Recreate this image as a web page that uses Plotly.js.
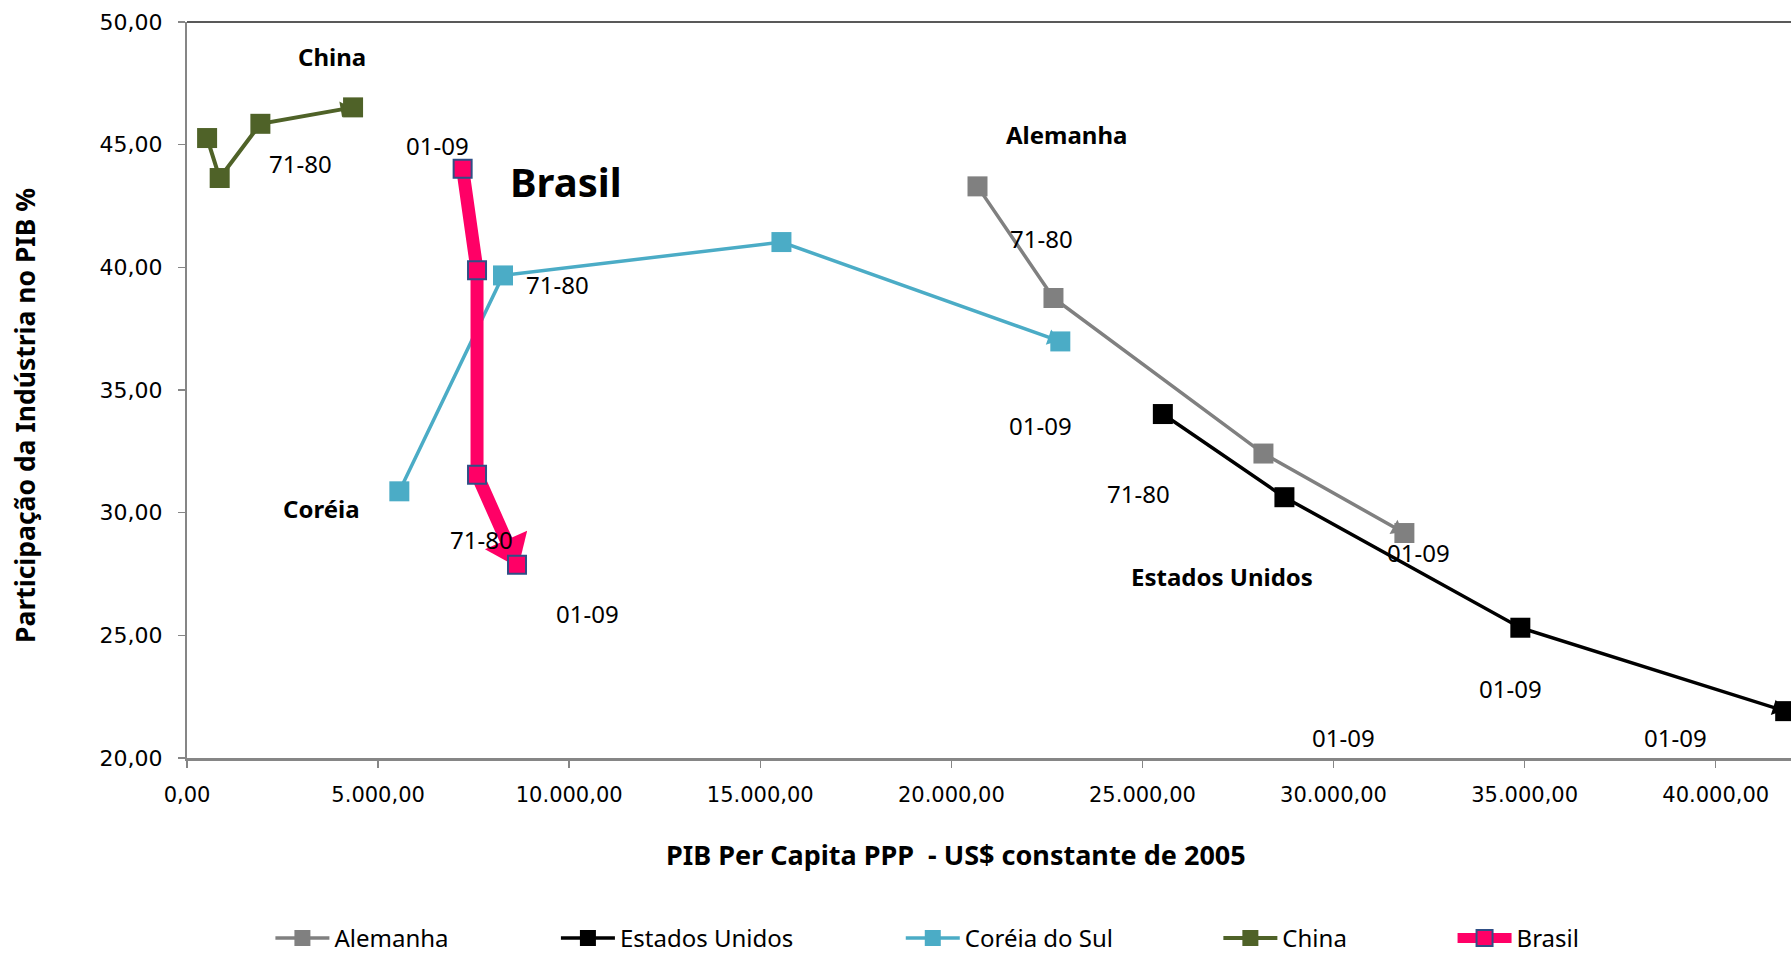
<!DOCTYPE html>
<html>
<head>
<meta charset="utf-8">
<script src="https://cdn.plot.ly/plotly-3.0.1.min.js"></script>
<style>html,body{margin:0;padding:0;background:#fff;}#chart{width:1791px;height:954px;}</style>
</head>
<body>
<div id="chart"></div>
<script>
// ---- data (PIB per capita PPP, participação da indústria %) ----
const seriesNames = ["Alemanha", "Estados Unidos", "Coréia do Sul", "China", "Brasil"];

const alemanhaX = [20684, 22672, 28166, 31854];
const alemanhaY = [43.30, 38.75, 32.41, 29.17];

const euaX = [25534, 28715, 34888, 41818];
const euaY = [34.02, 30.63, 25.31, 21.91];

const coreiaX = [5556, 8269, 15554, 22851];
const coreiaY = [30.87, 39.67, 41.03, 36.98];

const chinaX = [526, 855, 1920, 4345];
const chinaY = [45.27, 43.64, 45.85, 46.52];

const brasilX = [7212, 7589, 7589, 8635];
const brasilY = [44.02, 39.88, 31.55, 27.88];

const xTitle = "PIB Per Capita PPP  - US$ constante de 2005";
const yTitle = "Participação da Indústria no PIB %";

// text labels on the chart
const labelTexts = ["China", "71-80", "01-09", "Brasil", "71-80", "Alemanha", "71-80", "01-09", "71-80",
  "Estados Unidos", "01-09", "Coréia", "71-80", "01-09", "01-09", "01-09", "01-09"];
const labelX = [3783, 2966, 6542, 9909, 9700, 23025, 22368, 22337, 24908, 27090, 32228, 3516, 7698, 10477, 34618, 30256, 38951];
const labelY = [48.58, 44.25, 44.97, 43.51, 39.32, 45.42, 41.16, 33.55, 30.80, 27.40, 28.38, 30.19, 28.89, 25.87, 22.84, 20.84, 20.84];
const labelBold = [true, false, false, true, false, true, false, false, false, true, false, true, false, false, false, false, false];

// ---- styles ----
const colors = ["#808080", "#000000", "#4BACC6", "#4F6228", "#FF0066"];
const allX = [alemanhaX, euaX, coreiaX, chinaX, brasilX];
const allY = [alemanhaY, euaY, coreiaY, chinaY, brasilY];
const lineW = [3.5, 3.5, 3.5, 4, 13];
const legendX = [0.052, 0.230, 0.445, 0.643, 0.789];
const legendIds = ["legend", "legend2", "legend3", "legend4", "legend5"];

const traces = [];
for (let i = 0; i < seriesNames.length; i++) {
  const isBr = i === 4;
  const xs = allX[i], ys = allY[i];
  // arrow head at the end of each line
  traces.push({
    type: "scatter", mode: "markers",
    x: xs.slice(-2), y: ys.slice(-2),
    marker: {
      symbol: "triangle-up", angleref: "previous", opacity: 1,
      size: isBr ? [0, 40] : [0, 14], standoff: isBr ? 17 : 9,
      color: colors[i], line: {width: 0}
    },
    showlegend: false, hoverinfo: "skip", cliponaxis: false
  });
  traces.push({
    type: "scatter", mode: "lines+markers", name: seriesNames[i],
    x: xs, y: ys,
    line: {color: colors[i], width: lineW[i]},
    marker: {
      symbol: "square", size: isBr ? 18 : 20, color: colors[i], opacity: 1,
      line: isBr ? {color: "#2F4F86", width: 2} : {width: 0}
    },
    legend: legendIds[i], cliponaxis: false
  });
}

const annotations = labelTexts.map((t, k) => ({
  x: labelX[k], y: labelY[k], xref: "x", yref: "y",
  text: labelBold[k] ? "<b>" + t + "</b>" : t,
  showarrow: false, xanchor: "center", yanchor: "middle",
  font: {family: "Noto Sans, sans-serif", size: t === "Brasil" ? 40 : 24, color: "#000"}
}));
// axis titles (placed as in the original, slightly off-centre)
annotations.push({
  xref: "paper", yref: "paper", x: 0.4796, y: -0.131, xanchor: "center", yanchor: "middle",
  text: "<b>" + xTitle + "</b>", showarrow: false,
  font: {family: "Noto Sans, sans-serif", size: 27, color: "#000"}
});
annotations.push({
  xref: "paper", yref: "paper", x: -0.1007, y: 0.4654, xanchor: "center", yanchor: "middle",
  text: "<b>" + yTitle + "</b>", showarrow: false, textangle: -90,
  font: {family: "Noto Sans, sans-serif", size: 26.5, color: "#000"}
});

const layout = {
  width: 1791, height: 954,
  margin: {l: 187, r: 0, t: 22, b: 196, autoexpand: false},
  paper_bgcolor: "#fff", plot_bgcolor: "#fff",
  separators: ",.",
  font: {family: "Noto Sans, sans-serif", color: "#000"},
  xaxis: {
    range: [0, 41970], tick0: 0, dtick: 5000, tickformat: ",.2f",
    showgrid: false, zeroline: false, showline: true,
    linecolor: "#868686", linewidth: 3,
    ticks: "outside", ticklen: 7, tickcolor: "#868686", tickwidth: 1.5,
    ticklabelstandoff: 9,
    tickfont: {family: "DejaVu Sans, sans-serif", size: 21, color: "#000"},
    automargin: false
  },
  yaxis: {
    range: [20, 50], tick0: 20, dtick: 5, tickformat: ",.2f",
    showgrid: false, zeroline: false, showline: true,
    linecolor: "#868686", linewidth: 2,
    ticks: "outside", ticklen: 7, tickcolor: "#868686", tickwidth: 1.5,
    ticklabelstandoff: 11,
    tickfont: {family: "DejaVu Sans, sans-serif", size: 22, color: "#000"},
    automargin: false
  },
  shapes: [{type: "line", xref: "paper", yref: "paper", x0: 0, x1: 1, y0: 1, y1: 1,
    line: {color: "#222", width: 1.5}}],
  annotations: annotations
};

legendIds.forEach((id, i) => {
  layout[id] = {
    x: legendX[i], y: -0.245, xanchor: "left", yanchor: "middle",
    orientation: "h", bgcolor: "rgba(0,0,0,0)", itemwidth: 54,
    font: {family: "Noto Sans, sans-serif", size: 24, color: "#000"}
  };
});

Plotly.newPlot("chart", traces, layout, {displayModeBar: false, staticPlot: true});
</script>
</body>
</html>
